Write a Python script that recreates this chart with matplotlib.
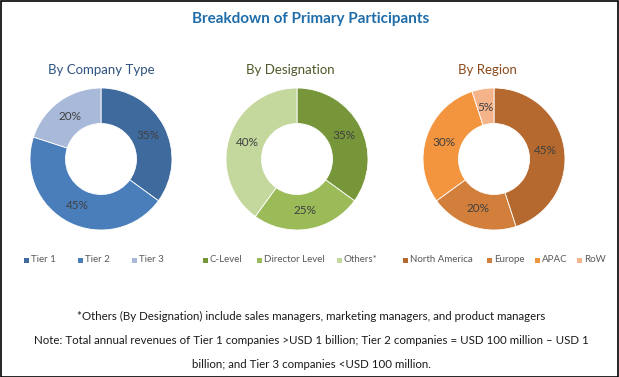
import matplotlib
matplotlib.use("Agg")
import matplotlib.pyplot as plt
from matplotlib.patches import Rectangle

plt.rcParams["font.family"] = ["Lato", "DejaVu Sans"]

company_labels = ["Tier 1", "Tier 2", "Tier 3"]
company_values = [35, 45, 20]
company_colors = ["#3F6A9E", "#4A7EBB", "#A9B9D9"]

designation_labels = ["C-Level", "Director Level", "Others*"]
designation_values = [35, 25, 40]
designation_colors = ["#77963A", "#9BBB59", "#C4D79D"]

region_labels = ["North America", "Europe", "APAC", "RoW"]
region_values = [45, 20, 30, 5]
region_colors = ["#B5692E", "#D27F3C", "#F3953F", "#F5B38A"]

W, H = 619, 377
fig = plt.figure(figsize=(W / 100, H / 100), dpi=100)
fig.patches.append(Rectangle((0.5 / W, 0.5 / H), 1 - 1.5 / W, 1 - 1.5 / H,
                             transform=fig.transFigure, fill=False,
                             edgecolor="black", linewidth=1.2))


def px(x, y):
    return x / W, 1 - y / H


fig.text(*px(311, 19), "Breakdown of Primary Participants", ha="center", va="center",
         fontsize=11, fontweight="bold", color="#1F6DAA")

# (title, title colour, title x, donut x, labels, values, colours, legend marker x)
groups = [
    ("By Company Type", "#2F5381", 101, 101, company_labels, company_values, company_colors,
     [24, 78, 132]),
    ("By Designation", "#4E5A2A", 290, 297, designation_labels, designation_values, designation_colors,
     [203, 257, 337]),
    ("By Region", "#8C4A1C", 487, 494, region_labels, region_values, region_colors,
     [403, 487, 535, 577]),
]

R = 71
cy = 159
for title, tcolor, tx, cx, labels, values, colors, mx in groups:
    fig.text(*px(tx, 70), title, ha="center", va="center", fontsize=9.5, color=tcolor)
    ax = fig.add_axes([(cx - R) / W, 1 - (cy + R) / H, 2 * R / W, 2 * R / H])
    ax.pie(values, colors=colors, startangle=90, counterclock=False, radius=1,
           wedgeprops=dict(width=0.5, edgecolor="white", linewidth=0.6),
           autopct="%d%%", pctdistance=0.74,
           textprops=dict(color="#404040", fontsize=8.5))
    ax.set_xlim(-1, 1)
    ax.set_ylim(-1, 1)
    ax.set_aspect("equal")
    ax.axis("off")

    for x, lab, col in zip(mx, labels, colors):
        fig.patches.append(Rectangle(px(x, 263), 5 / W, 5 / H, transform=fig.transFigure,
                                     facecolor=col, edgecolor="none"))
        fig.text(*px(x + 7, 260), lab, ha="left", va="center", fontsize=7,
                 color="#595959")

notes = [
    "*Others (By Designation) include sales managers, marketing managers, and product managers",
    "Note: Total annual revenues of Tier 1 companies >USD 1 billion; Tier 2 companies = USD 100 million \u2013 USD 1",
    "billion; and Tier 3 companies <USD 100 million.",
]
for y, line in zip([316, 340, 364], notes):
    fig.text(*px(311, y), line, ha="center", va="center", fontsize=8.3, color="#1a1a1a")

fig.savefig("out.png", dpi=100)
